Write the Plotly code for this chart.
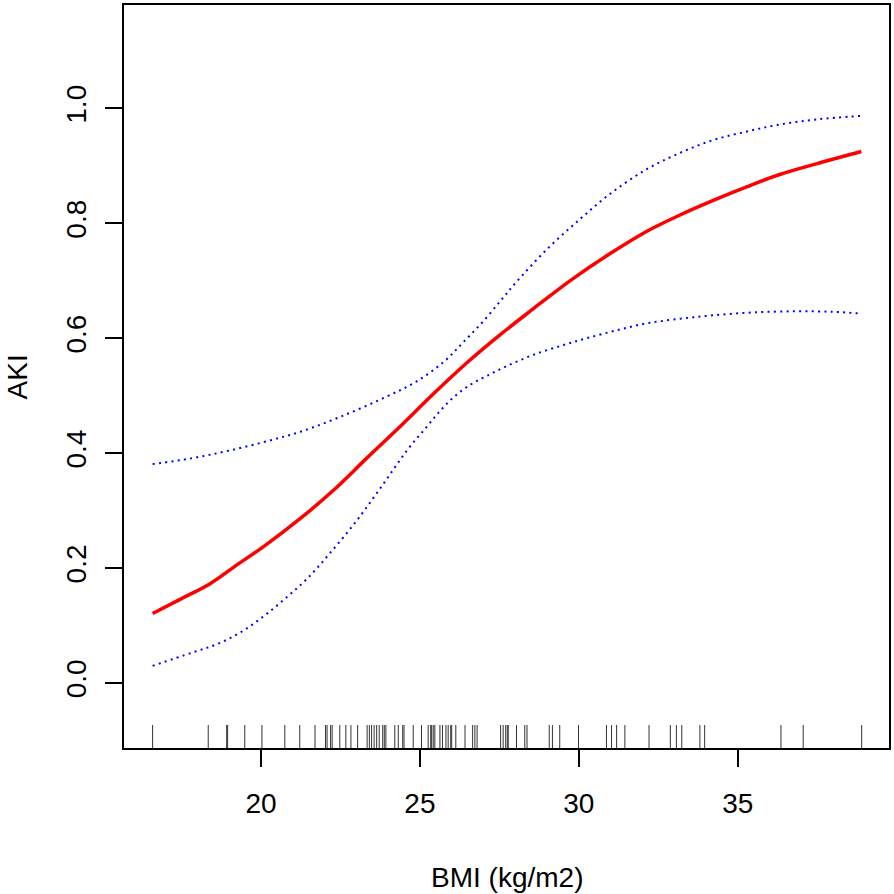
import plotly.graph_objects as go

# ---- data ----
fit_bmi = [16.59, 17.5, 18.4, 19.2, 20.07, 21.23, 22.27, 23.32, 24.37, 25.42, 26.47,
           27.52, 28.56, 29.72, 31.0, 32.13, 33.2, 34.23, 35.3, 36.32, 37.5, 38.89]
aki_fit = [0.121, 0.147, 0.173, 0.204, 0.237, 0.286, 0.335, 0.391, 0.446, 0.503, 0.557,
           0.606, 0.651, 0.700, 0.748, 0.786, 0.815, 0.840, 0.864, 0.885, 0.904, 0.925]

upper_bmi = [16.59, 17.8, 19.03, 20.6, 21.33, 22.57, 23.93, 24.90, 25.77, 26.38, 27.0,
             27.58, 28.02, 29.0, 30.03, 31.0, 32.13, 33.2, 34.23, 35.3, 36.32, 37.5, 38.89]
aki_upper = [0.381, 0.391, 0.405, 0.427, 0.439, 0.465, 0.498, 0.525, 0.560, 0.594, 0.630,
             0.668, 0.697, 0.755, 0.807, 0.852, 0.894, 0.923, 0.945, 0.960, 0.972, 0.981, 0.987]

lower_bmi = [16.59, 17.83, 18.63, 19.38, 20.10, 20.78, 21.44, 22.17, 23.03, 23.83, 24.61,
             25.20, 25.61, 26.07, 26.61, 27.16, 27.75, 28.56, 29.5, 30.24, 31.2, 32.13,
             33.2, 34.23, 35.5, 36.85, 38.0, 38.89]
aki_lower = [0.030, 0.053, 0.068, 0.089, 0.117, 0.148, 0.181, 0.226, 0.284, 0.345, 0.406,
             0.445, 0.472, 0.498, 0.520, 0.536, 0.552, 0.571, 0.588, 0.600, 0.614, 0.626,
             0.634, 0.640, 0.645, 0.647, 0.646, 0.643]

rug_bmi = [16.59, 18.34, 18.92, 18.95, 19.49, 20.03, 20.75, 21.22, 21.70, 22.03,
           22.08, 22.19, 22.24, 22.48, 22.67, 22.83, 23.04, 23.34, 23.41, 23.48,
           23.56, 23.64, 23.72, 23.83, 23.88, 23.93, 24.21, 24.32, 24.46, 24.50,
           24.79, 25.05, 25.26, 25.34, 25.37, 25.42, 25.47, 25.63, 25.71, 25.82,
           25.89, 25.97, 26.00, 26.13, 26.42, 26.66, 26.73, 26.80, 27.54, 27.62,
           27.70, 27.75, 27.78, 28.04, 28.30, 28.37, 29.07, 29.17, 29.40, 29.99,
           30.87, 31.03, 31.19, 31.45, 32.21, 32.88, 33.07, 33.24, 33.81, 33.96,
           36.36, 37.06, 38.90]

x_ticks = [20, 25, 30, 35]
y_ticks = [0.0, 0.2, 0.4, 0.6, 0.8, 1.0]
y_tick_text = ["0.0", "0.2", "0.4", "0.6", "0.8", "1.0"]

X_RANGE = [15.69, 39.76]
Y_RANGE = [-0.113, 1.18]
RUG_TOP = -0.073

FONT = "Liberation Sans, Arial, sans-serif"

fig = go.Figure()

# rug
rx, ry = [], []
for v in rug_bmi:
    rx += [v, v, None]
    ry += [Y_RANGE[0], RUG_TOP, None]
fig.add_trace(go.Scatter(x=rx, y=ry, mode="lines",
                         line=dict(color="#333333", width=1),
                         hoverinfo="skip", showlegend=False))

# confidence bands
for bx, band in ((upper_bmi, aki_upper), (lower_bmi, aki_lower)):
    fig.add_trace(go.Scatter(x=bx, y=band, mode="lines",
                             line=dict(color="#0000FF", width=2, dash="2px,4.3px",
                                       shape="spline", smoothing=1.0),
                             showlegend=False))

# fitted curve
fig.add_trace(go.Scatter(x=fit_bmi, y=aki_fit, mode="lines",
                         line=dict(color="#FF0000", width=3.5,
                                   shape="spline", smoothing=1.0),
                         showlegend=False))

axis_common = dict(showgrid=False, zeroline=False, showline=True, mirror=True,
                   linecolor="black", linewidth=2, ticks="outside", ticklen=17,
                   tickwidth=2, tickcolor="black",
                   tickfont=dict(family=FONT, size=28, color="black"))

fig.update_xaxes(range=X_RANGE, tickvals=x_ticks, ticklabelstandoff=12, **axis_common)
fig.update_yaxes(range=Y_RANGE, tickvals=y_ticks, ticktext=y_tick_text,
                 tickangle=-90, ticklabelstandoff=8, **axis_common)

fig.add_annotation(text="BMI (kg/m2)", xref="paper", yref="paper",
                   x=0.5, y=-0.1745, xanchor="center", yanchor="middle",
                   showarrow=False, font=dict(family=FONT, size=28, color="black"))
fig.add_annotation(text="AKI", xref="paper", yref="paper",
                   x=-0.1386, y=0.5, xanchor="center", yanchor="middle",
                   textangle=-90,
                   showarrow=False, font=dict(family=FONT, size=28, color="black"))

fig.update_layout(width=894, height=894,
                  margin=dict(l=124, r=5, t=3, b=146),
                  paper_bgcolor="white", plot_bgcolor="white",
                  font=dict(family=FONT, size=28, color="black"))

fig.write_html("out.html", config={"displayModeBar": False},
               post_script="document.body.style.margin='0';document.body.style.overflow='hidden';")
